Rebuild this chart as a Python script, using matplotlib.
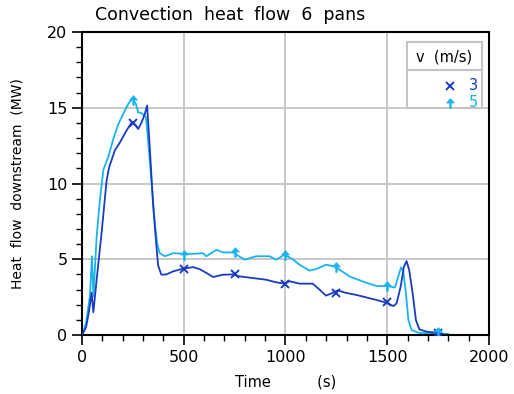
import matplotlib

matplotlib.use("Agg")
import matplotlib.pyplot as plt
from matplotlib.patches import Rectangle
from matplotlib.path import Path
from matplotlib.ticker import MultipleLocator


TITLE = "Convection  heat  flow  6  pans"
XLABEL = "Time          (s)"
YLABEL = "Heat  flow  downstream  (MW)"
LEGEND_TITLE = "v  (m/s)"
SPEEDS = ("3", "5")

# v = 3 m/s
time_3 = [0, 20, 35, 47, 56, 72, 96, 121, 134, 162, 186, 219, 243, 250, 260, 276, 292, 309, 320,
          333, 350, 366, 374, 390, 415, 448, 497, 546, 578, 611, 644, 693, 742, 775, 840, 905,
          954, 995, 1020, 1069, 1134, 1167, 1199, 1232, 1257, 1297, 1350, 1383, 1448, 1497,
          1530, 1546, 1566, 1582, 1595, 1608, 1625, 1641, 1658, 1694, 1743, 1776]
flow_3 = [0, 0.5, 1.6, 2.8, 1.5, 3.65, 6.7, 10.2, 11.1, 12.2, 12.7, 13.5, 14.0, 14.0, 13.9, 13.6,
          14.0, 14.6, 15.15, 12.4, 8.5, 5.85, 4.6, 3.98, 4.0, 4.2, 4.38, 4.48, 4.35, 4.1, 3.83,
          3.98, 4.0, 3.87, 3.76, 3.65, 3.48, 3.39, 3.55, 3.39, 3.39, 3.0, 2.6, 2.78, 2.95, 2.78,
          2.64, 2.53, 2.31, 2.13, 1.91, 2.09, 3.19, 4.51, 4.88, 4.29, 2.75, 0.99, 0.37, 0.22,
          0.15, 0.07]

# v = 5 m/s
time_5 = [0, 20, 39, 49, 56, 72, 88, 105, 129, 154, 178, 203, 227, 248, 265, 276, 292, 314, 325,
          341, 358, 369, 382, 407, 448, 497, 546, 595, 611, 660, 693, 742, 799, 856, 922, 954,
          995, 1036, 1069, 1118, 1150, 1199, 1240, 1268, 1317, 1383, 1448, 1497, 1538, 1554,
          1568, 1579, 1592, 1604, 1620, 1653, 1710, 1800]
flow_5 = [0, 0.8, 2.56, 5.2, 2.56, 6.5, 8.9, 10.9, 11.75, 12.95, 13.9, 14.6, 15.25, 15.6, 15.25,
          14.7, 14.65, 14.4, 12.85, 10.2, 7.4, 6.06, 5.4, 5.2, 5.4, 5.36, 5.36, 5.4, 5.2, 5.62,
          5.45, 5.45, 4.97, 5.2, 5.2, 4.97, 5.3, 5.0, 4.64, 4.25, 4.35, 4.64, 4.53, 4.29, 3.85,
          3.52, 3.23, 3.23, 3.14, 3.85, 4.47, 4.18, 2.75, 0.99, 0.33, 0.15, 0.11, 0.07]

mark_time = [250, 500, 750, 1000, 1250, 1500, 1750]
mark_3 = [14.0, 4.35, 4.0, 3.35, 2.8, 2.2, 0.15]
mark_5 = [15.5, 5.3, 5.45, 5.3, 4.5, 3.25, 0.2]

DARK = "#1a3cc0"
LIGHT = "#18b4f0"

# up-arrow marker used for the 5 m/s series
ARROW = Path([(-0.15, -1.0), (0.15, -1.0), (0.15, 0.1), (0.8, 0.1), (0.0, 1.0),
              (-0.8, 0.1), (-0.15, 0.1), (-0.15, -1.0)], closed=True)


def main() -> None:
    plt.rcParams["font.family"] = "DejaVu Sans"
    fig = plt.figure(figsize=(5.14, 3.94), dpi=100)
    ax = fig.add_axes([0.1595, 0.1497, 0.7918, 0.7691])

    ax.plot(time_3, flow_3, color=DARK, linewidth=1.3, zorder=3)
    ax.plot(time_5, flow_5, color=LIGHT, linewidth=1.3, zorder=2)
    ax.plot(mark_time, mark_3, linestyle="none", marker="x", markersize=6,
            markeredgewidth=1.4, color=DARK, zorder=4)
    ax.plot(mark_time, mark_5, linestyle="none", marker=ARROW, markersize=7,
            markeredgewidth=0.5, color=LIGHT, zorder=4)

    ax.set_xlim(0, 2000)
    ax.set_ylim(0, 20)
    ax.xaxis.set_major_locator(MultipleLocator(500))
    ax.xaxis.set_minor_locator(MultipleLocator(100))
    ax.yaxis.set_major_locator(MultipleLocator(5))
    ax.yaxis.set_minor_locator(MultipleLocator(1))
    ax.tick_params(which="major", direction="out", length=7, width=1.2, labelsize=11.5,
                   top=False, right=False)
    ax.tick_params(which="minor", direction="out", length=4, width=1.0, top=False, right=False)
    ax.grid(True, which="major", color="#c4c4c4", linewidth=1.3)
    ax.set_axisbelow(True)
    for spine in ax.spines.values():
        spine.set_linewidth(1.5)

    ax.set_xlabel(XLABEL, fontsize=10.5, labelpad=7)
    ax.set_ylabel(YLABEL, fontsize=10, labelpad=16)
    fig.text(0.185, 0.962, TITLE, fontsize=12.5, ha="left", va="center")

    # legend box drawn by hand: title, separator, right-aligned entries
    ax.add_patch(Rectangle((0.7985, 0.749), 0.1845, 0.218, transform=ax.transAxes,
                           facecolor="white", edgecolor="#c4c4c4", linewidth=1.5, zorder=5))
    ax.plot([0.7985, 0.983], [0.8746, 0.8746], transform=ax.transAxes, color="#c4c4c4",
            linewidth=1.5, zorder=6)
    ax.text(0.889, 0.916, LEGEND_TITLE, transform=ax.transAxes, ha="center", va="center",
            fontsize=10.5, zorder=6)
    for y, label, color, marker, size in ((0.822, SPEEDS[0], DARK, "x", 6),
                                          (0.767, SPEEDS[1], LIGHT, ARROW, 7)):
        ax.text(0.972, y, label, transform=ax.transAxes, ha="right", va="center",
                fontsize=10.5, color=color, zorder=6)
        ax.plot([0.905], [y], transform=ax.transAxes, linestyle="none", marker=marker,
                markersize=size, markeredgewidth=1.4 if marker == "x" else 0.5,
                color=color, zorder=6, clip_on=False)

    fig.savefig("out.png", dpi=100)
    plt.close(fig)


if __name__ == "__main__":
    main()
